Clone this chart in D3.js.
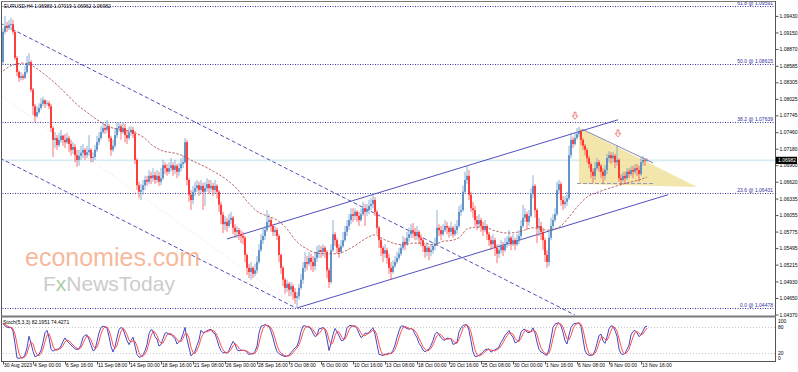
<!DOCTYPE html>
<html>
<head>
<meta charset="utf-8">
<script src="https://cdn.jsdelivr.net/npm/d3@7/dist/d3.min.js"></script>
<style>
  body { margin: 0; background: #fff; }
  text { font-family: "Liberation Sans", Arial, sans-serif; }
</style>
</head>
<body>
<div id="chart"></div>
<script>
// EURUSD H4, 30 Aug 2023 12:00 .. 14 Nov 2023 04:00 (one value per bar)
var firstOpen = 1.0865;
var closes = [
  1.0916,1.0926,1.0923,1.0928,1.0929,1.0916,1.0872,1.0848,1.0838,1.0841,
  1.0838,1.0848,1.0862,1.0865,1.0818,1.0790,1.0773,1.0780,1.0787,1.0794,
  1.0800,1.0794,1.0795,1.0790,1.0753,1.0733,1.0736,1.0724,1.0733,1.0740,
  1.0733,1.0729,1.0736,1.0726,1.0716,1.0721,1.0707,1.0699,1.0706,1.0711,
  1.0716,1.0707,1.0712,1.0716,1.0702,1.0704,1.0716,1.0729,1.0736,1.0746,
  1.0753,1.0750,1.0756,1.0736,1.0716,1.0723,1.0741,1.0753,1.0756,1.0746,
  1.0753,1.0741,1.0736,1.0746,1.0750,1.0743,1.0699,1.0656,1.0645,1.0648,
  1.0656,1.0665,1.0662,1.0672,1.0668,1.0673,1.0665,1.0672,1.0662,1.0668,
  1.0690,1.0685,1.0679,1.0685,1.0690,1.0682,1.0689,1.0679,1.0685,1.0692,
  1.0695,1.0729,1.0665,1.0640,1.0631,1.0645,1.0651,1.0656,1.0648,1.0655,
  1.0645,1.0651,1.0658,1.0651,1.0655,1.0648,1.0655,1.0645,1.0623,1.0606,
  1.0590,1.0594,1.0587,1.0597,1.0601,1.0584,1.0577,1.0580,1.0573,1.0570,
  1.0567,1.0538,1.0516,1.0509,1.0516,1.0506,1.0512,1.0526,1.0546,1.0563,
  1.0570,1.0580,1.0594,1.0597,1.0587,1.0577,1.0580,1.0570,1.0538,1.0516,
  1.0496,1.0482,1.0489,1.0479,1.0485,1.0475,1.0465,1.0468,1.0482,1.0496,
  1.0516,1.0526,1.0523,1.0533,1.0526,1.0519,1.0533,1.0543,1.0546,1.0543,
  1.0550,1.0543,1.0512,1.0492,1.0546,1.0573,1.0563,1.0550,1.0543,1.0553,
  1.0563,1.0577,1.0587,1.0597,1.0607,1.0604,1.0611,1.0604,1.0597,1.0607,
  1.0617,1.0611,1.0614,1.0621,1.0624,1.0631,1.0611,1.0584,1.0563,1.0550,
  1.0540,1.0546,1.0533,1.0516,1.0509,1.0519,1.0526,1.0533,1.0540,1.0550,
  1.0560,1.0556,1.0567,1.0573,1.0580,1.0577,1.0570,1.0577,1.0567,1.0563,
  1.0553,1.0543,1.0550,1.0543,1.0546,1.0553,1.0556,1.0584,1.0580,1.0573,
  1.0580,1.0587,1.0584,1.0577,1.0584,1.0573,1.0580,1.0587,1.0611,1.0614,
  1.0645,1.0665,1.0672,1.0640,1.0617,1.0614,1.0597,1.0590,1.0597,1.0587,
  1.0580,1.0587,1.0573,1.0563,1.0556,1.0563,1.0550,1.0540,1.0546,1.0553,
  1.0546,1.0556,1.0560,1.0567,1.0556,1.0563,1.0556,1.0563,1.0570,1.0587,
  1.0601,1.0607,1.0594,1.0604,1.0641,1.0655,1.0614,1.0584,1.0587,1.0577,
  1.0563,1.0538,1.0526,1.0567,1.0587,1.0597,1.0607,1.0648,1.0658,1.0631,
  1.0624,1.0628,1.0634,1.0707,1.0733,1.0726,1.0736,1.0743,1.0748,1.0733,
  1.0723,1.0716,1.0702,1.0692,1.0679,1.0672,1.0685,1.0695,1.0689,1.0679,
  1.0672,1.0682,1.0702,1.0707,1.0702,1.0706,1.0695,1.0699,1.0668,1.0665,
  1.0672,1.0668,1.0679,1.0675,1.0682,1.0679,1.0685,1.0682,1.0675,1.0695,
  1.0699,1.0698,1.06982
];
var highs = [
  1.0923,1.0943,1.0933,1.0936,1.0940,1.0936,1.0918,1.0875,1.0851,1.0848,
  1.0845,1.0858,1.0875,1.0880,1.0868,1.0821,1.0794,1.0790,1.0795,1.0804,
  1.0806,1.0802,1.0800,1.0799,1.0794,1.0756,1.0746,1.0741,1.0745,1.0750,
  1.0741,1.0743,1.0745,1.0740,1.0733,1.0729,1.0726,1.0716,1.0716,1.0723,
  1.0726,1.0719,1.0723,1.0741,1.0719,1.0712,1.0724,1.0740,1.0746,1.0756,
  1.0763,1.0760,1.0767,1.0760,1.0740,1.0733,1.0753,1.0763,1.0762,1.0760,
  1.0763,1.0760,1.0750,1.0755,1.0756,1.0755,1.0748,1.0702,1.0662,1.0658,
  1.0665,1.0672,1.0672,1.0682,1.0679,1.0685,1.0679,1.0682,1.0679,1.0685,
  1.0699,1.0695,1.0692,1.0695,1.0702,1.0695,1.0699,1.0692,1.0694,1.0702,
  1.0706,1.0736,1.0733,1.0668,1.0648,1.0655,1.0662,1.0665,1.0662,1.0665,
  1.0660,1.0662,1.0668,1.0665,1.0665,1.0660,1.0665,1.0658,1.0648,1.0628,
  1.0611,1.0604,1.0601,1.0607,1.0611,1.0604,1.0590,1.0587,1.0584,1.0580,
  1.0577,1.0570,1.0540,1.0523,1.0526,1.0519,1.0523,1.0536,1.0556,1.0573,
  1.0584,1.0587,1.0614,1.0607,1.0601,1.0590,1.0587,1.0584,1.0573,1.0540,
  1.0519,1.0499,1.0496,1.0492,1.0492,1.0489,1.0482,1.0475,1.0489,1.0506,
  1.0526,1.0543,1.0536,1.0543,1.0540,1.0536,1.0543,1.0553,1.0555,1.0553,
  1.0556,1.0553,1.0546,1.0516,1.0556,1.0597,1.0577,1.0567,1.0556,1.0563,
  1.0577,1.0587,1.0597,1.0607,1.0617,1.0617,1.0617,1.0614,1.0611,1.0617,
  1.0628,1.0624,1.0624,1.0631,1.0634,1.0641,1.0636,1.0614,1.0587,1.0567,
  1.0553,1.0556,1.0550,1.0540,1.0526,1.0529,1.0536,1.0543,1.0550,1.0556,
  1.0570,1.0567,1.0577,1.0584,1.0590,1.0592,1.0584,1.0587,1.0580,1.0573,
  1.0567,1.0556,1.0560,1.0553,1.0556,1.0560,1.0567,1.0614,1.0590,1.0587,
  1.0590,1.0597,1.0594,1.0587,1.0594,1.0587,1.0590,1.0597,1.0621,1.0624,
  1.0655,1.0679,1.0690,1.0682,1.0645,1.0628,1.0621,1.0604,1.0607,1.0601,
  1.0594,1.0597,1.0590,1.0577,1.0570,1.0573,1.0567,1.0556,1.0556,1.0563,
  1.0560,1.0567,1.0570,1.0580,1.0570,1.0573,1.0567,1.0573,1.0580,1.0597,
  1.0623,1.0617,1.0611,1.0614,1.0651,1.0673,1.0658,1.0617,1.0601,1.0594,
  1.0584,1.0567,1.0546,1.0577,1.0601,1.0607,1.0617,1.0662,1.0665,1.0662,
  1.0638,1.0638,1.0645,1.0723,1.0745,1.0738,1.0745,1.0753,1.0755,1.0750,
  1.0736,1.0726,1.0719,1.0706,1.0695,1.0685,1.0695,1.0702,1.0699,1.0692,
  1.0685,1.0690,1.0709,1.0714,1.0712,1.0712,1.0709,1.0724,1.0702,1.0675,
  1.0679,1.0679,1.0685,1.0685,1.0689,1.0689,1.0692,1.0692,1.0689,1.0704,
  1.0706,1.0702,1.07019
];
var lows = [
  1.0860,1.0912,1.0916,1.0919,1.0919,1.0912,1.0868,1.0841,1.0831,1.0834,
  1.0834,1.0836,1.0845,1.0858,1.0814,1.0775,1.0763,1.0770,1.0777,1.0784,
  1.0790,1.0787,1.0790,1.0785,1.0746,1.0704,1.0719,1.0716,1.0721,1.0728,
  1.0723,1.0719,1.0726,1.0712,1.0706,1.0709,1.0695,1.0687,1.0689,1.0699,
  1.0702,1.0699,1.0702,1.0706,1.0695,1.0695,1.0699,1.0712,1.0724,1.0733,
  1.0743,1.0743,1.0745,1.0729,1.0706,1.0712,1.0719,1.0736,1.0746,1.0733,
  1.0743,1.0729,1.0726,1.0733,1.0740,1.0736,1.0692,1.0648,1.0634,1.0631,
  1.0640,1.0648,1.0655,1.0658,1.0658,1.0662,1.0658,1.0660,1.0655,1.0656,
  1.0665,1.0675,1.0672,1.0675,1.0679,1.0672,1.0675,1.0668,1.0672,1.0679,
  1.0685,1.0692,1.0656,1.0628,1.0614,1.0624,1.0638,1.0645,1.0638,1.0641,
  1.0614,1.0621,1.0645,1.0641,1.0645,1.0638,1.0641,1.0634,1.0611,1.0590,
  1.0575,1.0580,1.0577,1.0584,1.0590,1.0573,1.0567,1.0567,1.0563,1.0558,
  1.0556,1.0526,1.0504,1.0499,1.0496,1.0499,1.0502,1.0506,1.0523,1.0543,
  1.0556,1.0563,1.0577,1.0584,1.0577,1.0570,1.0570,1.0563,1.0526,1.0506,
  1.0485,1.0472,1.0475,1.0468,1.0468,1.0462,1.0455,1.0448,1.0462,1.0479,
  1.0489,1.0509,1.0512,1.0519,1.0512,1.0509,1.0512,1.0526,1.0533,1.0533,
  1.0536,1.0533,1.0499,1.0482,1.0489,1.0543,1.0553,1.0540,1.0533,1.0540,
  1.0550,1.0560,1.0570,1.0580,1.0590,1.0594,1.0597,1.0594,1.0587,1.0594,
  1.0604,1.0587,1.0604,1.0607,1.0614,1.0617,1.0604,1.0573,1.0550,1.0536,
  1.0526,1.0533,1.0523,1.0506,1.0496,1.0506,1.0516,1.0523,1.0529,1.0536,
  1.0546,1.0546,1.0553,1.0560,1.0567,1.0567,1.0563,1.0563,1.0556,1.0553,
  1.0543,1.0533,1.0536,1.0529,1.0536,1.0540,1.0546,1.0553,1.0570,1.0563,
  1.0570,1.0577,1.0573,1.0567,1.0570,1.0567,1.0570,1.0573,1.0584,1.0604,
  1.0611,1.0641,1.0658,1.0631,1.0611,1.0601,1.0587,1.0580,1.0584,1.0577,
  1.0570,1.0577,1.0563,1.0553,1.0546,1.0550,1.0536,1.0524,1.0533,1.0540,
  1.0536,1.0543,1.0550,1.0553,1.0546,1.0553,1.0546,1.0553,1.0556,1.0563,
  1.0584,1.0594,1.0580,1.0587,1.0601,1.0634,1.0601,1.0558,1.0570,1.0563,
  1.0546,1.0526,1.0516,1.0519,1.0563,1.0580,1.0594,1.0604,1.0641,1.0621,
  1.0614,1.0617,1.0621,1.0631,1.0702,1.0719,1.0723,1.0733,1.0738,1.0724,
  1.0716,1.0707,1.0694,1.0685,1.0668,1.0660,1.0665,1.0682,1.0679,1.0668,
  1.0660,1.0665,1.0675,1.0695,1.0692,1.0695,1.0685,1.0689,1.0662,1.0656,
  1.0662,1.0658,1.0665,1.0668,1.0672,1.0668,1.0675,1.0672,1.0662,1.0672,
  1.0689,1.0689,1.06962
];

// moving average (bar index, price)
var maBars = [0,5,10,14,18,23,28,33,38,43,48,53,58,65,70,75,80,85,90,95,100,105,112,117,122,127,132,137,142,147,152,157,162,167,172,177,182,186,190,195,200,205,210,215,220,225,229,232,237,241,245,252,258,265,272,278,283,287,292,298,305,312,318,322];
var maValues = [1.0850,1.0860,1.0863,1.0860,1.0851,1.0838,1.0823,1.0806,1.0790,1.0777,1.0765,1.0755,1.0751,1.0746,1.0738,1.0723,1.0714,1.0711,1.0706,1.0697,1.0689,1.0680,1.0665,1.0650,1.0629,1.0612,1.0604,1.0597,1.0582,1.0560,1.0548,1.0541,1.0540,1.0540,1.0546,1.0556,1.0567,1.0572,1.0565,1.0558,1.0555,1.0558,1.0558,1.0555,1.0561,1.0563,1.0570,1.0582,1.0585,1.0585,1.0580,1.0575,1.0577,1.0584,1.0580,1.0585,1.0602,1.0619,1.0636,1.0645,1.0653,1.0660,1.0665,1.0670];

// time axis labels
var timeBars = [0,15,31,47,63,79,95,111,127,143,159,175,191,207,223,239,255,271,287,303,319];
var timeLabels = ["30 Aug 2023","4 Sep 00:00","6 Sep 16:00","11 Sep 08:00","14 Sep 00:00","18 Sep 16:00",
  "21 Sep 08:00","26 Sep 00:00","28 Sep 16:00","3 Oct 08:00","6 Oct 00:00","10 Oct 16:00","13 Oct 08:00",
  "18 Oct 00:00","20 Oct 16:00","25 Oct 08:00","30 Oct 00:00","1 Nov 16:00","6 Nov 08:00","9 Nov 00:00","13 Nov 16:00"];

// price axis labels
var priceTicks = [1.09430,1.09150,1.08870,1.08585,1.08305,1.08025,1.07745,1.07460,1.07180,1.06900,
  1.06620,1.06335,1.06055,1.05775,1.05495,1.05215,1.04930,1.04650,1.04370];

// fibonacci retracement
var fibLevels = ["0.0","23.6","38.2","50.0","61.8"];
var fibPrices = [1.04478,1.06431,1.07639,1.08615,1.09591];

// drawn objects: [bar, price] end points
var descUpper = [[-1.5,1.0931],[286,1.0436]];
var descLower = [[-1.5,1.0702],[146.5,1.0448]];
var faintLine = [[-1.5,1.0809],[147.5,1.0448]];
var ascUpper = [[112,1.0565],[307.5,1.0767]];
var ascLower = [[147,1.0448],[332.5,1.0640]];
var triangle = [[288,1.0753],[288,1.0658],[347,1.0653]];
var triTop = [[289.5,1.0751],[325,1.0694]];
var triBase = [[287,1.0659],[325,1.0659]];
var arrowBars = [286,307.5];
var arrowPrices = [1.0773,1.0743];

var lastPrice = 1.06982;
var header = "EURUSD,H4  1.06983 1.07019 1.06962 1.06982";
var stochHeader = "Stoch(5,3,3) 82.1951 74.4271";

var W = 798, H = 372;
var axisX = 775;

var svg = d3.select("#chart").append("svg")
    .attr("width", W)
    .attr("height", H);

svg.append("rect").attr("width", W).attr("height", H).attr("fill", "#fff");

// scales
var x = d3.scaleLinear().domain([0, 322]).range([3, 647]);
var y = d3.scaleLinear().domain([1.0448, 1.0970]).range([308, 0]);
var ys = d3.scaleLinear().domain([0, 100]).range([361, 319]);

// clip for main panel
svg.append("clipPath").attr("id", "mainClip")
  .append("rect").attr("x", 1.5).attr("y", 1.5).attr("width", axisX - 1.5).attr("height", 314);
svg.append("clipPath").attr("id", "stochClip")
  .append("rect").attr("x", 1.5).attr("y", 318).attr("width", axisX - 1.5).attr("height", 43);

var main = svg.append("g").attr("clip-path", "url(#mainClip)");

// current price line
main.append("line")
    .attr("x1", 0).attr("x2", axisX)
    .attr("y1", y(lastPrice)).attr("y2", y(lastPrice))
    .attr("stroke", "#d6ecf3").attr("stroke-width", 1.6);

// fib levels
fibPrices.forEach(function(p, i) {
    main.append("line")
        .attr("x1", 0).attr("x2", axisX)
        .attr("y1", Math.round(y(p)) + 0.5).attr("y2", Math.round(y(p)) + 0.5)
        .attr("stroke", "#3a3aa6").attr("stroke-width", 1)
        .attr("stroke-dasharray", "1,1.5");
    main.append("text")
        .attr("x", axisX - 2).attr("y", Math.round(y(p)) - 1)
        .attr("text-anchor", "end")
        .attr("font-size", "5px")
        .attr("fill", "#3030a0")
        .text(fibLevels[i] + " @ " + p.toFixed(5));
});

// triangle
main.append("path")
    .attr("d", d3.line().x(d => x(d[0])).y(d => y(d[1]))(triangle) + "Z")
    .attr("fill", "#efe097").attr("opacity", 0.8);

var seg = d3.line().x(d => x(d[0])).y(d => y(d[1]));

main.append("path").attr("d", seg(triBase))
    .attr("stroke", "#9a9ab8").attr("stroke-width", 1.2).attr("stroke-dasharray", "4,2").attr("fill", "none");
main.append("path").attr("d", seg(triTop))
    .attr("stroke", "#6a6a9a").attr("stroke-width", 0.8).attr("fill", "none");

// channels
main.append("path").attr("d", seg(faintLine))
    .attr("stroke", "#e4d4dc").attr("stroke-width", 0.8).attr("stroke-dasharray", "1,2").attr("fill", "none");
[descUpper, descLower].forEach(function(l) {
    main.append("path").attr("d", seg(l))
        .attr("stroke", "#3c3cae").attr("stroke-width", 0.9).attr("stroke-dasharray", "4,2.5").attr("fill", "none");
});
[ascUpper, ascLower].forEach(function(l) {
    main.append("path").attr("d", seg(l))
        .attr("stroke", "#3c3cb4").attr("stroke-width", 0.9).attr("fill", "none");
});

// candles
var bars = closes.map(function(c, i) {
    var o = i === 0 ? firstOpen : closes[i - 1];
    return {
        i: i, o: o, c: c,
        h: Math.max(highs[i], o, c),
        l: Math.min(lows[i], o, c)
    };
});

var candles = main.append("g").selectAll("g")
    .data(bars)
    .enter()
    .append("g");

candles.append("line")
    .attr("x1", d => x(d.i)).attr("x2", d => x(d.i))
    .attr("y1", d => y(d.h)).attr("y2", d => y(d.l))
    .attr("stroke", d => d.c >= d.o ? "#6f9ccc" : "#ff4a4a")
    .attr("stroke-width", 0.8);

candles.append("rect")
    .attr("x", d => x(d.i) - 0.8)
    .attr("width", 1.6)
    .attr("y", d => y(Math.max(d.o, d.c)))
    .attr("height", d => Math.max(0.8, Math.abs(y(d.o) - y(d.c))))
    .attr("fill", d => d.c >= d.o ? "#4a84c2" : "#ff2020");

// moving average
main.append("path")
    .datum(maBars.map((b, i) => [b, maValues[i]]))
    .attr("d", d3.line().x(d => x(d[0])).y(d => y(d[1])).curve(d3.curveMonotoneX))
    .attr("fill", "none")
    .attr("stroke", "#a84848")
    .attr("stroke-width", 0.8)
    .attr("stroke-dasharray", "2.5,1.5");

// sell arrows
arrowBars.forEach(function(b, i) {
    var cx = x(b), cy = y(arrowPrices[i]);
    main.append("path")
        .attr("d", "M" + (cx - 1) + "," + (cy - 4) + "h2v3.5h1.8l-2.8,3.5l-2.8,-3.5h1.8z")
        .attr("fill", "#fff").attr("stroke", "#e86464").attr("stroke-width", 0.8);
});

// watermark
svg.append("text")
    .attr("x", 25).attr("y", 266)
    .attr("font-size", "25px")
    .attr("fill", "#f4a27a").attr("opacity", 0.75)
    .text("economies.com");
svg.append("text")
    .attr("x", 43).attr("y", 291)
    .attr("font-size", "21px")
    .attr("fill", "#cccccc")
    .html('F<tspan fill="#a9cfa9">x</tspan>NewsToday');

// header
svg.append("text")
    .attr("x", 4).attr("y", 7.5)
    .attr("font-size", "5px")
    .attr("fill", "#000")
    .text(header);

// stochastic (5,3,3) from the bars
var kPeriod = 5, slowing = 3, dPeriod = 3;
var num = [], den = [], kLine = [], dLine = [];
bars.forEach(function(b, i) {
    var from = Math.max(0, i - kPeriod + 1);
    var win = bars.slice(from, i + 1);
    var ll = d3.min(win, d => d.l), hh = d3.max(win, d => d.h);
    num.push(b.c - ll);
    den.push(hh - ll);
    var f = Math.max(0, i - slowing + 1);
    var sn = d3.sum(num.slice(f, i + 1)), sd = d3.sum(den.slice(f, i + 1));
    kLine.push(sd > 0 ? sn / sd * 100 : 50);
    var g = Math.max(0, i - dPeriod + 1);
    dLine.push(d3.mean(kLine.slice(g, i + 1)));
});

var stoch = svg.append("g").attr("clip-path", "url(#stochClip)");
[80, 20].forEach(function(lv) {
    stoch.append("line")
        .attr("x1", 0).attr("x2", axisX)
        .attr("y1", Math.round(ys(lv)) + 0.5).attr("y2", Math.round(ys(lv)) + 0.5)
        .attr("stroke", "#c8c8c8").attr("stroke-dasharray", "1,2");
});
var sLine = d3.line().x((d, i) => x(i)).y(d => ys(d));
stoch.append("path").datum(kLine).attr("d", sLine)
    .attr("fill", "none").attr("stroke", "#4646c2").attr("stroke-width", 1);
stoch.append("path").datum(dLine).attr("d", sLine)
    .attr("fill", "none").attr("stroke", "#ff4f4f").attr("stroke-width", 1);

svg.append("text")
    .attr("x", 3).attr("y", 324)
    .attr("font-size", "5px")
    .attr("fill", "#000")
    .text(stochHeader);

// frames
svg.append("line").attr("x1", 1.5).attr("x2", 1.5).attr("y1", 1).attr("y2", 361)
    .attr("stroke", "#555").attr("stroke-width", 1);
svg.append("line").attr("x1", 1).attr("x2", axisX).attr("y1", 1.5).attr("y2", 1.5)
    .attr("stroke", "#777").attr("stroke-width", 1);
svg.append("line").attr("x1", axisX + 0.5).attr("x2", axisX + 0.5).attr("y1", 1).attr("y2", 361)
    .attr("stroke", "#555").attr("stroke-width", 1);
svg.append("line").attr("x1", 1).attr("x2", axisX + 1).attr("y1", 316.5).attr("y2", 316.5)
    .attr("stroke", "#7a7a7a").attr("stroke-width", 2);
svg.append("line").attr("x1", 1).attr("x2", axisX + 1).attr("y1", 361.5).attr("y2", 361.5)
    .attr("stroke", "#555").attr("stroke-width", 1);

// price axis
var yAxis = d3.axisRight(y)
    .tickValues(priceTicks)
    .tickFormat(d3.format(".5f"))
    .tickSize(3)
    .tickPadding(1);
var yg = svg.append("g")
    .attr("transform", "translate(" + (axisX + 0.5) + ",0)")
    .call(yAxis);
yg.select(".domain").remove();
yg.selectAll("line").attr("stroke", "#555");
yg.selectAll("text").attr("font-size", "5px").attr("fill", "#000")
    .style("font-family", "'Liberation Sans', Arial, sans-serif");

// current price box
svg.append("rect")
    .attr("x", axisX + 1).attr("y", y(lastPrice) - 3.6)
    .attr("width", 21).attr("height", 7.2)
    .attr("fill", "#000");
svg.append("text")
    .attr("x", axisX + 3).attr("y", y(lastPrice) + 1.8)
    .attr("font-size", "5px").attr("fill", "#fff")
    .text(lastPrice.toFixed(5));

// stochastic axis
var stochLabels = [["100", 322.5], ["80", 329], ["20", 354.5], ["0", 359.8]];
stochLabels.forEach(function(s) {
    svg.append("text")
        .attr("x", axisX + 3).attr("y", s[1])
        .attr("font-size", "5px").attr("fill", "#000")
        .text(s[0]);
});

// time axis
var xAxis = d3.axisBottom(x)
    .tickValues(timeBars)
    .tickFormat((d, i) => timeLabels[i])
    .tickSize(3)
    .tickPadding(-1);
var xg = svg.append("g")
    .attr("transform", "translate(0,361.5)")
    .call(xAxis);
xg.select(".domain").remove();
xg.selectAll("line").attr("stroke", "#555");
xg.selectAll("text")
    .attr("text-anchor", "start")
    .attr("dx", "0.5")
    .attr("font-size", "5px").attr("fill", "#000")
    .style("font-family", "'Liberation Sans', Arial, sans-serif");
</script>
</body>
</html>
